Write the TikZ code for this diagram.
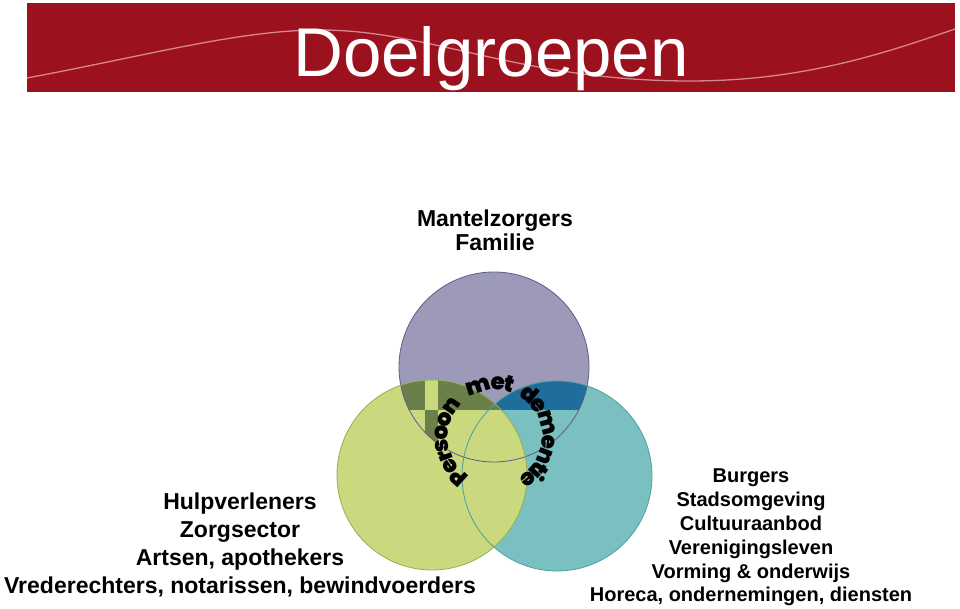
\documentclass[tikz,border=0pt]{standalone}
\usepackage{fontspec}
\setmainfont{Liberation Sans}
\newfontfamily\pmdfont{Poppins}[UprightFont={* Black}]
\newcommand\pmdstyle{\pmdfont\fontsize{23pt}{23pt}\selectfont}
\usetikzlibrary{positioning,decorations.text}

\definecolor{bannerred}{HTML}{9B111E}
\definecolor{wavepink}{HTML}{D4868E}
\definecolor{mzfill}{HTML}{9C9AB8}
\definecolor{mzline}{HTML}{5F5A8C}
\definecolor{hvfill}{HTML}{CBD97E}
\definecolor{hvline}{HTML}{8DB257}
\definecolor{bgfill}{HTML}{7BC0C0}
\definecolor{bgline}{HTML}{4A9FA0}
\definecolor{mzhv}{HTML}{6B8049}
\definecolor{mzbg}{HTML}{1E6D9D}

\begin{document}
\begin{tikzpicture}[x=1pt,y=1pt,
	lbl/.style={font=\bfseries\fontsize{23}{23}\selectfont, inner sep=0pt, anchor=base},
	rlbl/.style={lbl, font=\bfseries\fontsize{20}{20}\selectfont},
	circ/.style={line width=0.8pt},
	pmdtext/.style={decorate, decoration={text effects along path,
		text={#1}, text align=center,
		text effects/.cd, text along path,
		characters={font=\pmdstyle, inner sep=0pt},
		character widths={font=\pmdstyle, inner sep=0pt, inner xsep=-1.2pt}}}
	]
	\useasboundingbox (0,0) rectangle (960,609);
	
	% banner
	\fill[bannerred] (27,517) rectangle (955,606);
	\draw[wavepink, line width=1.3pt]
	(27,531) .. controls (150,554) and (240,579) .. (320,579)
	.. controls (430,579) and (520,528) .. (690,528)
	.. controls (800,528) and (880,554) .. (955,580);
	\node[white, inner sep=0pt, anchor=base, font=\fontsize{69}{69}\selectfont]
	(title) at (491,532) {Doelgroepen};
	
	% circles
	\coordinate (mz) at (494,242);
	\coordinate (hv) at (432,134);
	\coordinate (bg) at (557,133);
	\coordinate (pmd) at (495,172);
	
	\fill[mzfill] (mz) circle[radius=95];
	\fill[bgfill] (bg) circle[radius=95];
	\fill[hvfill] (hv) circle[radius=95];
	
	% darker band in the overlaps
	\begin{scope}
		\clip (mz) circle[radius=95];
		\clip (0,199) rectangle (960,240);
		\fill[mzbg] (bg) circle[radius=95];
		\fill[mzhv] (hv) circle[radius=95];
		\clip (hv) circle[radius=95];
		\fill[hvfill] (425,199) rectangle (438,240);
	\end{scope}
	\begin{scope}
		\clip (mz) circle[radius=95];
		\clip (hv) circle[radius=95];
		\fill[mzhv] (425,150) rectangle (438,199);
	\end{scope}
	
	\draw[circ, mzline] (mz) circle[radius=95];
	\draw[circ, bgline] (bg) circle[radius=95];
	\draw[circ, hvline] (hv) circle[radius=95];
	
	% text round the middle, one arc per word
	\path[pmdtext={Persoon}]
	(pmd) ++(250:47) arc[start angle=250, end angle=122, radius=47];
	\path[pmdtext={met}]
	(pmd) ++(126:47) arc[start angle=126, end angle=66, radius=47];
	\path[pmdtext={dementie}]
	(pmd) ++(66:47) arc[start angle=66, end angle=-66, radius=47];
	
	% labels
	\node[lbl] (mz1) at (495,382) {Mantelzorgers};
	\node[lbl] (mz2) at ([yshift=-24pt]mz1.base) {Familie};
	
	\node[lbl] (hv1) at (240,99) {Hulpverleners};
	\node[lbl] (hv2) at ([yshift=-27.7pt]hv1.base) {Zorgsector};
	\node[lbl] (hv3) at ([yshift=-27.7pt]hv2.base) {Artsen, apothekers};
	\node[lbl] (hv4) at ([yshift=-27.7pt]hv3.base) {Vrederechters, notarissen, bewindvoerders};
	
	\node[rlbl] (bg1) at (751,126) {Burgers};
	\node[rlbl] (bg2) at ([yshift=-23.8pt]bg1.base) {Stadsomgeving};
	\node[rlbl] (bg3) at ([yshift=-23.8pt]bg2.base) {Cultuuraanbod};
	\node[rlbl] (bg4) at ([yshift=-23.8pt]bg3.base) {Verenigingsleven};
	\node[rlbl] (bg5) at ([yshift=-23.8pt]bg4.base) {Vorming \& onderwijs};
	\node[rlbl] (bg6) at ([yshift=-23.8pt]bg5.base) {Horeca, ondernemingen, diensten};
\end{tikzpicture}
\end{document}
